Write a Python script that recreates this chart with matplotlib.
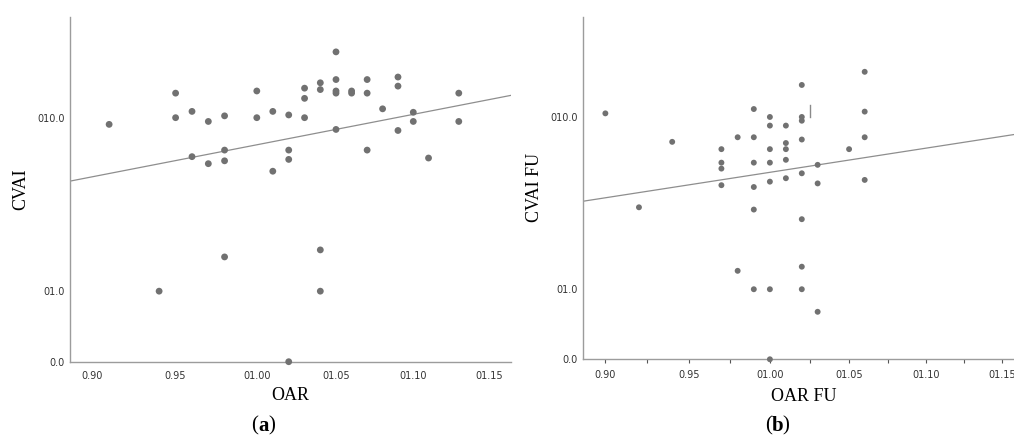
import numpy as np
import matplotlib
matplotlib.use("Agg")
import matplotlib.pyplot as plt

# Panel (a): OAR vs CVAI
oar = [0.91, 0.94, 0.95, 0.95, 0.96, 0.96, 0.97, 0.97,
       0.98, 0.98, 0.98, 0.98, 1.00, 1.00, 1.01, 1.01,
       1.02, 1.02, 1.02, 1.02, 1.03, 1.03, 1.03,
       1.04, 1.04, 1.04, 1.04, 1.05, 1.05, 1.05, 1.05, 1.05,
       1.06, 1.06, 1.07, 1.07, 1.07, 1.08, 1.09, 1.09, 1.09,
       1.10, 1.10, 1.11, 1.13, 1.13]
cvai = [9.3, 1.0, 13.0, 10.0, 10.7, 6.5, 9.6, 6.0,
        10.2, 7.0, 6.2, 1.8, 13.3, 10.0, 10.7, 5.5,
        10.3, 7.0, 6.3, 0.0, 13.7, 12.3, 10.0,
        14.5, 13.5, 2.0, 1.0, 20.0, 15.0, 13.3, 13.0, 8.8,
        13.3, 13.0, 15.0, 13.0, 7.0, 11.0, 15.4, 14.0, 8.7,
        10.6, 9.6, 6.4, 13.0, 9.6]

# Panel (b): OAR FU vs CVAI FU
oar_fu = [0.90, 0.92, 0.94, 0.97, 0.97, 0.97, 0.97, 0.98, 0.98,
          0.99, 0.99, 0.99, 0.99, 0.99, 0.99,
          1.00, 1.00, 1.00, 1.00, 1.00, 1.00, 1.00,
          1.01, 1.01, 1.01, 1.01, 1.01,
          1.02, 1.02, 1.02, 1.02, 1.02, 1.02, 1.02, 1.02,
          1.03, 1.03, 1.03, 1.05, 1.06, 1.06, 1.06, 1.06]
cvai_fu = [10.4, 3.5, 7.6, 7.0, 6.0, 5.6, 4.6, 8.0, 1.4,
           10.9, 8.0, 6.0, 4.5, 3.4, 1.0,
           10.0, 9.1, 7.0, 6.0, 4.8, 1.0, 0.0,
           9.1, 7.5, 7.0, 6.2, 5.0,
           14.1, 10.0, 9.6, 7.8, 5.3, 3.0, 1.5, 1.0,
           5.85, 4.7, 0.6, 7.0, 16.2, 10.6, 8.0, 4.9]

# fit lines (at the x-axis ends)
x_range = [0.887, 1.165]
fit_a = [4.9, 12.7]
fit_b = [3.78, 8.39]
mark_x = [1.025, 1.025]
mark_y = [10.0, 11.4]

xticks = [0.90, 0.95, 1.00, 1.05, 1.10, 1.15]
xticklabels = ['0.90', '0.95', '01.00', '01.05', '01.10', '01.15']
yticks = [0, 1, 10]
yticklabels = ['0.0', '01.0', '010.0']

fwd = lambda v: np.log10(np.asarray(v) + 1)
inv = lambda u: 10 ** np.asarray(u) - 1

dot_c = '#717171'
line_c = '#8e8e8e'
spine_c = '#9c9c9c'

fig = plt.figure(figsize=(10.14, 4.41), dpi=100)
ax1 = fig.add_axes([0.0693, 0.1798, 0.4347, 0.781])
ax2 = fig.add_axes([0.5753, 0.1853, 0.4347, 0.7755])


def style(ax, ticks_on):
    ax.set_xscale('function', functions=(fwd, inv))
    ax.set_yscale('function', functions=(fwd, inv))
    ax.set_xlim(x_range)
    ax.set_ylim(0, 28.5)
    for s in ['top', 'right']:
        ax.spines[s].set_visible(False)
    for s in ['left', 'bottom']:
        ax.spines[s].set_color(spine_c)
        ax.spines[s].set_linewidth(1.0)
    ax.set_xticks(xticks)
    ax.set_xticklabels(xticklabels)
    ax.set_yticks(yticks)
    ax.set_yticklabels(yticklabels)
    ax.tick_params(axis='y', length=0, labelsize=7, colors='#333333', pad=4)
    if ticks_on:
        ax.set_xticks([0.925, 0.975, 1.025, 1.075, 1.125], minor=True)
        ax.tick_params(axis='x', which='both', length=3, width=0.8,
                       color='#555555', labelsize=7, labelcolor='#333333', pad=5)
    else:
        ax.tick_params(axis='x', length=0, labelsize=7, labelcolor='#333333', pad=7)
    ax.minorticks_on() if ticks_on else ax.minorticks_off()
    ax.yaxis.set_minor_locator(matplotlib.ticker.NullLocator())
    if ticks_on:
        ax.set_xticks([0.925, 0.975, 1.025, 1.075, 1.125], minor=True)


style(ax1, False)
style(ax2, True)

ax1.plot(x_range, fit_a, color=line_c, lw=0.9, zorder=2)
ax1.scatter(oar, cvai, s=24, color=dot_c, edgecolors='none', zorder=3, clip_on=False)
ax2.plot(x_range, fit_b, color=line_c, lw=0.9, zorder=2)
ax2.scatter(oar_fu, cvai_fu, s=18, color=dot_c, edgecolors='none', zorder=3, clip_on=False)
ax2.plot(mark_x, mark_y, color='#8a8a8a', lw=1.0)

serif = 'Liberation Serif'
fig.text(0.0204, 0.571, 'CVAI', rotation=90, ha='center', va='center',
         family=serif, fontsize=13)
fig.text(0.2867, 0.104, 'OAR', ha='center', va='center', family=serif, fontsize=13)
fig.text(0.5276, 0.574, 'CVAI FU', rotation=90, ha='center', va='center',
         family=serif, fontsize=13)
fig.text(0.7922, 0.0998, 'OAR FU', ha='center', va='center', family=serif, fontsize=13)

fig.text(0.2544, 0.034, '(', ha='right', va='center', family=serif, fontsize=15)
fig.text(0.2544, 0.034, 'a', ha='left', va='center', family=serif, fontsize=15, weight='bold')
fig.text(0.2647, 0.034, ')', ha='left', va='center', family=serif, fontsize=15)
fig.text(0.7610, 0.034, '(', ha='right', va='center', family=serif, fontsize=15)
fig.text(0.7610, 0.034, 'b', ha='left', va='center', family=serif, fontsize=15, weight='bold')
fig.text(0.7718, 0.034, ')', ha='left', va='center', family=serif, fontsize=15)

fig.savefig('out.png', dpi=100)
